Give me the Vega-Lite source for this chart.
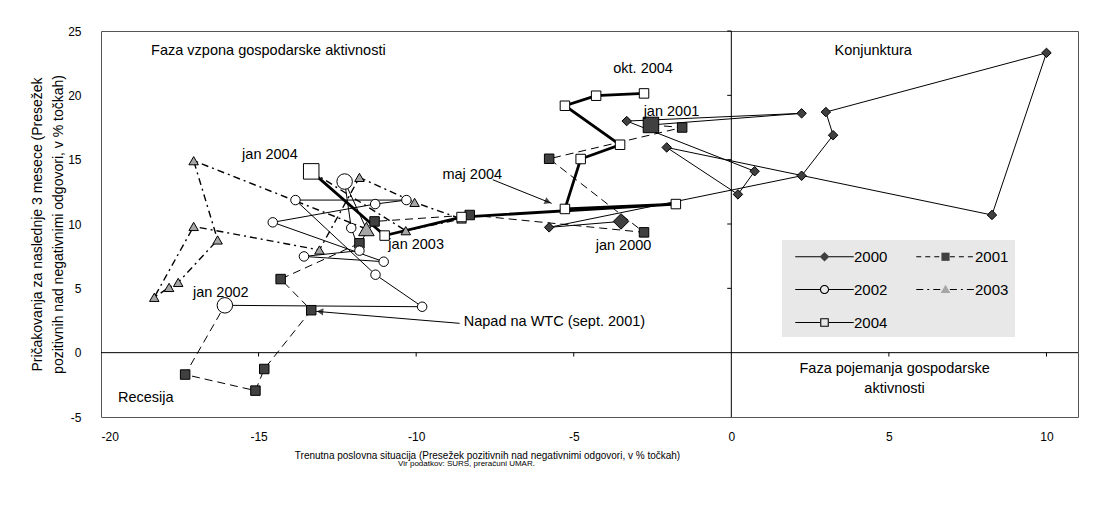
{
  "$schema": "https://vega.github.io/schema/vega-lite/v6.json",
  "width": 977,
  "height": 386,
  "autosize": {"type": "none"},
  "padding": {"left": 101, "top": 31, "right": 17, "bottom": 90},
  "background": "white",
  "config": {
    "font": "Liberation Sans",
    "view": {"stroke": "#555555", "strokeWidth": 1}
  },
  "title": {
    "text": "Vir podatkov: SURS, preračuni UMAR.",
    "orient": "bottom",
    "anchor": "middle",
    "frame": "group",
    "fontSize": 8,
    "fontWeight": "normal",
    "color": "black",
    "dx": -123,
    "offset": 0
  },
  "datasets": {
    "pts": [
      {"year": "2000", "i": 1, "x": -3.5, "y": 10.2, "big": 1},
      {"year": "2000", "i": 2, "x": -5.78, "y": 9.74, "big": 0},
      {"year": "2000", "i": 3, "x": 2.23, "y": 13.75, "big": 0},
      {"year": "2000", "i": 4, "x": 3.23, "y": 16.9, "big": 0},
      {"year": "2000", "i": 5, "x": 3.0, "y": 18.7, "big": 0},
      {"year": "2000", "i": 6, "x": 10.0, "y": 23.3, "big": 0},
      {"year": "2000", "i": 7, "x": 8.27, "y": 10.7, "big": 0},
      {"year": "2000", "i": 8, "x": -2.05, "y": 15.95, "big": 0},
      {"year": "2000", "i": 9, "x": 0.21, "y": 12.3, "big": 0},
      {"year": "2000", "i": 10, "x": 0.74, "y": 14.1, "big": 0},
      {"year": "2000", "i": 11, "x": -3.32, "y": 18.0, "big": 0},
      {"year": "2000", "i": 12, "x": 2.23, "y": 18.6, "big": 0},
      {"year": "2000", "i": 13, "x": -2.55, "y": 17.7, "big": 0},
      {"year": "2001", "i": 1, "x": -2.55, "y": 17.7, "big": 1},
      {"year": "2001", "i": 2, "x": -1.56, "y": 17.5, "big": 0},
      {"year": "2001", "i": 3, "x": -5.78, "y": 15.07, "big": 0},
      {"year": "2001", "i": 4, "x": -2.77, "y": 9.35, "big": 0},
      {"year": "2001", "i": 5, "x": -8.3, "y": 10.7, "big": 0},
      {"year": "2001", "i": 6, "x": -11.32, "y": 10.2, "big": 0},
      {"year": "2001", "i": 7, "x": -11.8, "y": 8.5, "big": 0},
      {"year": "2001", "i": 8, "x": -14.3, "y": 5.72, "big": 0},
      {"year": "2001", "i": 9, "x": -13.33, "y": 3.3, "big": 0},
      {"year": "2001", "i": 10, "x": -14.82, "y": -1.27, "big": 0},
      {"year": "2001", "i": 11, "x": -15.1, "y": -2.95, "big": 0},
      {"year": "2001", "i": 12, "x": -17.33, "y": -1.7, "big": 0},
      {"year": "2001", "i": 13, "x": -16.07, "y": 3.68, "big": 0},
      {"year": "2002", "i": 1, "x": -16.07, "y": 3.68, "big": 1},
      {"year": "2002", "i": 2, "x": -9.81, "y": 3.57, "big": 0},
      {"year": "2002", "i": 3, "x": -11.29, "y": 6.06, "big": 0},
      {"year": "2002", "i": 4, "x": -13.83, "y": 11.86, "big": 0},
      {"year": "2002", "i": 5, "x": -10.31, "y": 11.86, "big": 0},
      {"year": "2002", "i": 6, "x": -11.3, "y": 11.55, "big": 0},
      {"year": "2002", "i": 7, "x": -14.55, "y": 10.13, "big": 0},
      {"year": "2002", "i": 8, "x": -11.03, "y": 7.07, "big": 0},
      {"year": "2002", "i": 9, "x": -13.56, "y": 7.48, "big": 0},
      {"year": "2002", "i": 10, "x": -11.8, "y": 7.93, "big": 0},
      {"year": "2002", "i": 11, "x": -12.06, "y": 9.69, "big": 0},
      {"year": "2002", "i": 12, "x": -12.27, "y": 13.3, "big": 1},
      {"year": "2002", "i": 13, "x": -11.58, "y": 9.61, "big": 0},
      {"year": "2003", "i": 1, "x": -11.58, "y": 9.61, "big": 1},
      {"year": "2003", "i": 2, "x": -17.06, "y": 14.92, "big": 0},
      {"year": "2003", "i": 3, "x": -16.3, "y": 8.76, "big": 0},
      {"year": "2003", "i": 4, "x": -17.55, "y": 5.46, "big": 0},
      {"year": "2003", "i": 5, "x": -17.84, "y": 5.07, "big": 0},
      {"year": "2003", "i": 6, "x": -18.31, "y": 4.3, "big": 0},
      {"year": "2003", "i": 7, "x": -17.06, "y": 9.81, "big": 0},
      {"year": "2003", "i": 8, "x": -13.07, "y": 7.98, "big": 0},
      {"year": "2003", "i": 9, "x": -11.8, "y": 13.62, "big": 0},
      {"year": "2003", "i": 10, "x": -10.05, "y": 11.68, "big": 0},
      {"year": "2003", "i": 11, "x": -8.56, "y": 10.39, "big": 0},
      {"year": "2003", "i": 12, "x": -10.33, "y": 9.48, "big": 0},
      {"year": "2003", "i": 13, "x": -13.33, "y": 14.09, "big": 0},
      {"year": "2004", "i": 1, "x": -13.33, "y": 14.09, "big": 1},
      {"year": "2004", "i": 2, "x": -11.0, "y": 9.1, "big": 0},
      {"year": "2004", "i": 3, "x": -8.56, "y": 10.54, "big": 0},
      {"year": "2004", "i": 4, "x": -1.76, "y": 11.55, "big": 0},
      {"year": "2004", "i": 5, "x": -5.28, "y": 11.17, "big": 0},
      {"year": "2004", "i": 6, "x": -4.78, "y": 15.05, "big": 0},
      {"year": "2004", "i": 7, "x": -3.53, "y": 16.16, "big": 0},
      {"year": "2004", "i": 8, "x": -5.28, "y": 19.19, "big": 0},
      {"year": "2004", "i": 9, "x": -4.29, "y": 19.97, "big": 0},
      {"year": "2004", "i": 10, "x": -2.77, "y": 20.15, "big": 0}
    ],
    "labelsC": [
      {"t": "Konjunktura", "x": 4.5, "y": 23.43},
      {"t": "okt. 2004", "x": -2.8, "y": 22.04},
      {"t": "jan 2001", "x": -1.9, "y": 18.73},
      {"t": "jan 2004", "x": -14.64, "y": 15.4},
      {"t": "maj 2004", "x": -8.22, "y": 13.83},
      {"t": "jan 2003", "x": -10.0, "y": 8.4},
      {"t": "jan 2000", "x": -3.42, "y": 8.3},
      {"t": "jan 2002", "x": -16.2, "y": 4.62},
      {"t": "Recesija", "x": -18.58, "y": -3.54},
      {"t": "Faza pojemanja gospodarske", "x": 5.18, "y": -1.27},
      {"t": "aktivnosti", "x": 5.18, "y": -2.86}
    ],
    "labelsL": [
      {"t": "Faza vzpona gospodarske aktivnosti", "x": -18.41, "y": 23.43},
      {"t": "Napad na WTC (sept. 2001)", "x": -8.49, "y": 2.41}
    ],
    "arrows": [
      {"x": -7.57, "y": 13.44, "x2": -5.7, "y2": 11.6},
      {"x": -8.62, "y": 2.28, "x2": -13.17, "y2": 3.21}
    ],
    "tipMaj": [{"x": -5.82, "y": 11.72}],
    "tipWtc": [{"x": -13.05, "y": 3.19}],
    "xticks": [{"v": -15}, {"v": -10}, {"v": -5}, {"v": 5}, {"v": 10}],
    "yticks": [{"v": 5}, {"v": 10}, {"v": 15}, {"v": 20}, {"v": 25}]
  },
  "resolve": {
    "scale": {"shape": "independent", "fill": "independent", "size": "independent", "strokeDash": "independent"}
  },
  "layer": [
    {
      "data": {"values": [{}]},
      "mark": {"type": "rule", "color": "black", "strokeWidth": 1},
      "encoding": {"y": {"datum": 0, "type": "quantitative"}}
    },
    {
      "data": {"values": [{}]},
      "mark": {"type": "rule", "color": "black", "strokeWidth": 1},
      "encoding": {"x": {"datum": 0, "type": "quantitative"}}
    },
    {
      "data": {"name": "xticks"},
      "mark": {"type": "rule", "color": "black", "strokeWidth": 1},
      "encoding": {
        "x": {"field": "v", "type": "quantitative"},
        "y": {"datum": 0, "type": "quantitative"},
        "y2": {"datum": -0.3}
      }
    },
    {
      "data": {"name": "yticks"},
      "mark": {"type": "rule", "color": "black", "strokeWidth": 1},
      "encoding": {
        "y": {"field": "v", "type": "quantitative"},
        "x": {"datum": 0, "type": "quantitative"},
        "x2": {"datum": -0.13}
      }
    },
    {
      "data": {"name": "pts"},
      "transform": [{"filter": "datum.year === '2000' || datum.year === '2002'"}],
      "mark": {"type": "line", "color": "black", "strokeWidth": 1},
      "encoding": {
        "x": {
          "field": "x", "type": "quantitative",
          "scale": {"domain": [-20, 11], "nice": false, "zero": false},
          "axis": {
            "values": [-20, -15, -10, -5, 0, 5, 10],
            "labelExpr": "'' + datum.value",
            "grid": false, "ticks": false, "domain": false,
            "labelFontSize": 12, "labelPadding": 14, "labelColor": "black",
            "title": "Trenutna poslovna situacija (Presežek pozitivnih nad negativnimi odgovori, v % točkah)",
            "titleFontSize": 10, "titleFontWeight": "normal", "titleColor": "black",
            "titleX": 386, "titleY": 41, "titleBaseline": "alphabetic", "titleAnchor": "middle", "titleAlign": "center"
          }
        },
        "y": {
          "field": "y", "type": "quantitative",
          "scale": {"domain": [-5, 25], "nice": false, "zero": false},
          "axis": {
            "values": [-5, 0, 5, 10, 15, 20, 25],
            "labelExpr": "'' + datum.value",
            "grid": false, "ticks": false, "domain": false,
            "labelFontSize": 12, "labelPadding": 20, "labelColor": "black",
            "title": ["Pričakovanja za naslednje 3 mesece (Presežek", "pozitivnih nad negativnimi odgovori, v % točkah)"],
            "titleFontSize": 14, "titleFontWeight": "normal", "titleColor": "black",
            "titleLineHeight": 21, "titleAngle": 270, "titleBaseline": "middle", "titleAlign": "center",
            "titleX": -64, "titleY": 193, "titleAnchor": "middle"
          }
        },
        "detail": {"field": "year"},
        "order": {"field": "i", "type": "quantitative"}
      }
    },
    {
      "data": {"name": "pts"},
      "transform": [{"filter": "datum.year === '2001'"}],
      "mark": {"type": "line", "color": "black", "strokeWidth": 1, "strokeDash": [8, 5]},
      "encoding": {
        "x": {"field": "x", "type": "quantitative"},
        "y": {"field": "y", "type": "quantitative"},
        "order": {"field": "i", "type": "quantitative"}
      }
    },
    {
      "data": {"name": "pts"},
      "transform": [{"filter": "datum.year === '2003'"}],
      "mark": {"type": "line", "color": "black", "strokeWidth": 1.4, "strokeDash": [7, 4, 2, 4]},
      "encoding": {
        "x": {"field": "x", "type": "quantitative"},
        "y": {"field": "y", "type": "quantitative"},
        "order": {"field": "i", "type": "quantitative"}
      }
    },
    {
      "data": {"name": "pts"},
      "transform": [{"filter": "datum.year === '2004'"}],
      "mark": {"type": "line", "color": "black", "strokeWidth": 2.8},
      "encoding": {
        "x": {"field": "x", "type": "quantitative"},
        "y": {"field": "y", "type": "quantitative"},
        "order": {"field": "i", "type": "quantitative"}
      }
    },
    {
      "data": {"name": "pts"},
      "transform": [{"filter": "datum.i < 13"}],
      "mark": {"type": "point", "filled": true, "stroke": "black", "strokeWidth": 1, "opacity": 1},
      "encoding": {
        "x": {"field": "x", "type": "quantitative"},
        "y": {"field": "y", "type": "quantitative"},
        "shape": {
          "field": "year", "type": "nominal",
          "scale": {"domain": ["2000", "2001", "2002", "2003", "2004"], "range": ["diamond", "square", "circle", "triangle-up", "square"]},
          "legend": null
        },
        "fill": {
          "field": "year", "type": "nominal",
          "scale": {"domain": ["2000", "2001", "2002", "2003", "2004"], "range": ["#404040", "#404040", "#ffffff", "#a6a6a6", "#ffffff"]},
          "legend": null
        },
        "size": {
          "field": "big", "type": "quantitative",
          "scale": {"domain": [0, 1], "range": [90, 240]},
          "legend": null
        }
      }
    },
    {
      "data": {"name": "pts"},
      "mark": {"type": "line", "color": "black", "strokeWidth": 1, "opacity": 0},
      "encoding": {
        "x": {"field": "x", "type": "quantitative"},
        "y": {"field": "y", "type": "quantitative"},
        "order": {"field": "i", "type": "quantitative"},
        "strokeDash": {
          "field": "year", "type": "nominal",
          "scale": {"domain": ["2000", "2002", "2004", "2001", "2003"], "range": [[1, 0], [1, 0], [1, 0], [5, 4], [7, 4, 2, 4]]},
          "legend": {
            "orient": "none", "legendX": 681, "legendY": 209,
            "columns": 2, "title": null,
            "fillColor": "#e8e8e8", "padding": 6,
            "symbolType": "M-3,0L-0.45,0M0.45,0L3,0",
            "symbolSize": 380, "symbolOffset": 26, "symbolStrokeColor": "black", "symbolStrokeWidth": 1.2, "symbolOpacity": 1,
            "labelFontSize": 15, "labelColor": "black", "labelOffset": 19,
            "rowPadding": 14, "columnPadding": 21
          }
        }
      }
    },
    {
      "data": {"name": "pts"},
      "mark": {"type": "point", "filled": false, "stroke": "black", "strokeWidth": 1, "opacity": 0},
      "encoding": {
        "x": {"field": "x", "type": "quantitative"},
        "y": {"field": "y", "type": "quantitative"},
        "shape": {
          "field": "year", "type": "nominal",
          "scale": {"domain": ["2000", "2002", "2004", "2001", "2003"], "range": [
            "M0,-0.5L0.5,0L0,0.5L-0.5,0Z",
            "M-0.47,0A0.47,0.47,0,1,1,0.47,0A0.47,0.47,0,1,1,-0.47,0ZM-0.36,0A0.36,0.36,0,1,0,0.36,0A0.36,0.36,0,1,0,-0.36,0Z",
            "M-0.44,-0.44L0.44,-0.44L0.44,0.44L-0.44,0.44ZM-0.33,-0.33L-0.33,0.33L0.33,0.33L0.33,-0.33Z",
            "M-0.42,-0.42L0.42,-0.42L0.42,0.42L-0.42,0.42Z",
            "M0,-0.5L0.5,0.35L-0.5,0.35Z"
          ]},
          "legend": {
            "orient": "none", "legendX": 681, "legendY": 209,
            "columns": 2, "title": null,
            "padding": 6,
            "symbolSize": 380, "symbolOffset": 26, "symbolStrokeColor": "black", "symbolStrokeWidth": 1, "symbolOpacity": 1,
            "labelFontSize": 15, "labelColor": "black", "labelOffset": 19, "labelOpacity": 0,
            "rowPadding": 14, "columnPadding": 21
          }
        },
        "fill": {
          "field": "year", "type": "nominal",
          "scale": {"domain": ["2000", "2002", "2004", "2001", "2003"], "range": ["#404040", "#000000", "#000000", "#404040", "#a6a6a6"]},
          "legend": {
            "orient": "none", "legendX": 681, "legendY": 209,
            "columns": 2, "title": null,
            "padding": 6,
            "symbolSize": 380, "symbolOffset": 26, "symbolStrokeColor": "black", "symbolStrokeWidth": 1, "symbolOpacity": 1,
            "labelFontSize": 15, "labelColor": "black", "labelOffset": 19, "labelOpacity": 0,
            "rowPadding": 14, "columnPadding": 21
          }
        }
      }
    },
    {
      "data": {"name": "arrows"},
      "mark": {"type": "rule", "color": "black", "strokeWidth": 1},
      "encoding": {
        "x": {"field": "x", "type": "quantitative"},
        "y": {"field": "y", "type": "quantitative"},
        "x2": {"field": "x2"},
        "y2": {"field": "y2"}
      }
    },
    {
      "data": {"name": "tipMaj"},
      "mark": {"type": "point", "shape": "triangle-up", "filled": true, "color": "black", "size": 55, "angle": 112},
      "encoding": {
        "x": {"field": "x", "type": "quantitative"},
        "y": {"field": "y", "type": "quantitative"}
      }
    },
    {
      "data": {"name": "tipWtc"},
      "mark": {"type": "point", "shape": "triangle-up", "filled": true, "color": "black", "size": 55, "angle": 275},
      "encoding": {
        "x": {"field": "x", "type": "quantitative"},
        "y": {"field": "y", "type": "quantitative"}
      }
    },
    {
      "data": {"name": "labelsC"},
      "mark": {"type": "text", "align": "center", "baseline": "middle", "fontSize": 14.5, "color": "black"},
      "encoding": {
        "x": {"field": "x", "type": "quantitative"},
        "y": {"field": "y", "type": "quantitative"},
        "text": {"field": "t"}
      }
    },
    {
      "data": {"name": "labelsL"},
      "mark": {"type": "text", "align": "left", "baseline": "middle", "fontSize": 14.5, "color": "black"},
      "encoding": {
        "x": {"field": "x", "type": "quantitative"},
        "y": {"field": "y", "type": "quantitative"},
        "text": {"field": "t"}
      }
    }
  ]
}
